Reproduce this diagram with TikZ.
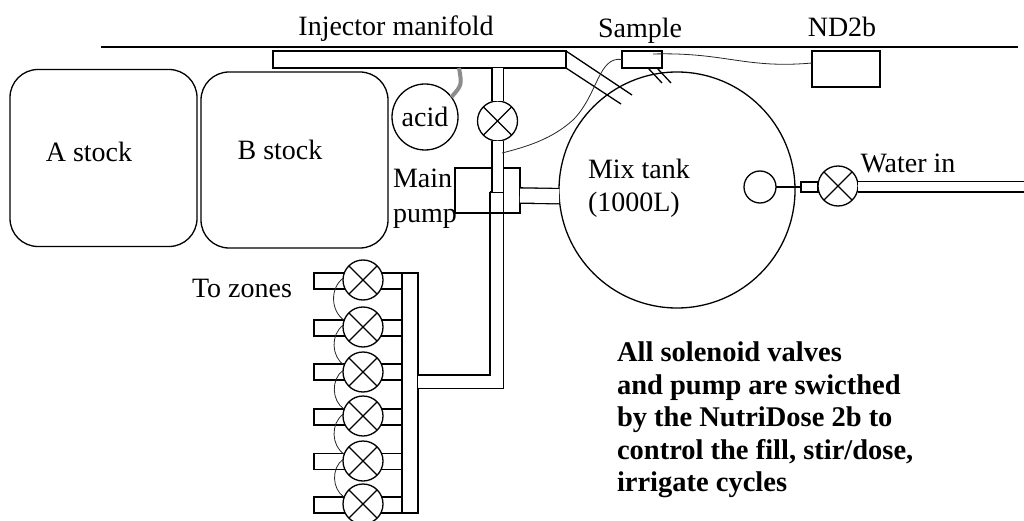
\documentclass[tikz,border=0pt]{standalone}
\usepackage{fontspec}
\setmainfont{Liberation Serif}
\usetikzlibrary{positioning}

\begin{document}
\begin{tikzpicture}[
    x=1pt, y=1pt,
    every node/.style={inner sep=0pt, outer sep=0pt},
    line width=1.3pt,
    box/.style={draw, minimum width=#1},
    stock/.style={draw, rounded corners=28pt, minimum width=187pt, minimum height=177pt},
    ball/.style={draw, circle, minimum size=#1},
    valve/.style={draw, circle, minimum size=40pt, fill=white, path picture={
        \draw (path picture bounding box.north west) -- (path picture bounding box.south east);
        \draw (path picture bounding box.north east) -- (path picture bounding box.south west);}},
    pipe/.style={double, double distance=#1},
    wire/.style={line width=0.8pt, black!85},
    lbl/.style={font=\fontsize{28}{38}\selectfont},
    note/.style={font=\fontsize{28.5}{32.5}\selectfont\bfseries, align=left}
]
    \useasboundingbox (0,0) rectangle (1024,520);

    \coordinate (lineL) at (101,473);
    \coordinate (lineR) at (1018,473);
    \draw (lineL) -- (lineR);

    \node[box=293pt, minimum height=17pt] (manifold) at (419.5,460.5) {};
    \node[box=40pt, minimum height=17pt] (sample) at (642,460.5) {};
    \node[box=68pt, minimum height=36pt] (nd2b) at (846,451) {};

    \node[stock] (astock) at (103.5,362) {};
    \node[stock, right=4pt of astock, yshift=-2pt, minimum height=176pt] (bstock) {};
    \node[ball=66pt] (acid) at (425,403) {};
    \node[ball=236pt] (tank) at (677,330) {};
    \node[ball=32pt] (float) at (760,333) {};

    \foreach \i/\y in {1/239, 2/192, 3/148, 4/103, 5/58.5, 6/15}
        \node[box=88pt, minimum height=16pt] (stub\i) at (358,\y) {};
    \foreach \i/\y in {1/240, 2/193, 3/148, 4/104, 5/59, 6/16}
        \node[valve] (zone\i) at (363,\y) {};
    \node[box=16pt, minimum height=240pt, fill=white] (bar) at (410,127) {};

    \coordinate (tee) at (496.5,328);
    \draw[pipe=12pt] (tee) |- ([yshift=11.5pt]bar.east);
    \draw ([xshift=-7pt]tee) -- ([xshift=7pt]tee);

    \node[box=65pt, minimum height=45pt] (pump) at (487.5,329.5) {};
    \node[valve] (mainvalve) at (497.5,399) {};
    \draw[pipe=10pt] (mainvalve.north) -- (mainvalve.north |- manifold.south);
    \draw[pipe=10pt] (mainvalve.south) -- (mainvalve.south |- tee);
    \draw[pipe=14pt] ([yshift=-5pt]pump.east) -- (tank.183);

    \node[box=17pt, minimum height=10pt] (coupler) at (809.5,333) {};
    \node[valve] (watervalve) at (838,334) {};
    \coordinate (waterend) at (1024,333);
    \draw[pipe=9pt] (waterend -| watervalve.east) -- (waterend);
    \draw (float.east) -- (coupler.west);

    \coordinate (drainA) at (632,425);
    \coordinate (drainB) at (621,416);
    \draw (manifold.north east) -- (drainA);
    \draw (manifold.south east) -- (drainB);
    \coordinate (probeA) at (648,452);
    \coordinate (probeB) at (662,437);
    \coordinate (probeC) at (657,452);
    \coordinate (probeD) at (671,437);
    \draw (probeA) -- (probeB);
    \draw (probeC) -- (probeD);

    \coordinate (wireend) at (502,367);
    \coordinate (samplein) at (653,466);
    \draw[wire] (sample.west) .. controls (598,464) and (598,425) .. (573,400)
        .. controls (553,382) and (530,374) .. (wireend);
    \draw[wire] (samplein) .. controls (725,468) and (745,451) .. ([yshift=6pt]nd2b.west);
    \foreach \i/\j in {1/2, 2/3, 3/4, 4/5, 5/6}
        \draw[wire] (zone\i.175) to[bend right=55] (zone\j.160);

    \coordinate (acidin) at (459,452);
    \draw[line width=4pt, black!45] (acidin) .. controls (462,435) .. (acid.37);

    \node[lbl] (manifoldtxt) at (396,491) {Injector manifold};
    \node[lbl] (sampletxt) at (640,489) {Sample};
    \node[lbl] (nd2btxt) at (842,493) {ND2b};
    \node[lbl] (atxt) at (89,368) {A stock};
    \node[lbl] (btxt) at (280,370) {B stock};
    \node[lbl] (acidtxt) at (425,403) {acid};
    \node[lbl, align=left, anchor=west] (pumptxt) at (393,321) {Main\\[-3pt]pump};
    \node[lbl, align=left, anchor=west] (tanktxt) at (588,332) {Mix tank\\[-5pt](1000L)};
    \node[lbl] (zonestxt) at (242,232) {To zones};
    \node[lbl] (watertxt) at (908,357) {Water in};
    \node[note, anchor=west] (notetxt) at (617,100) {All solenoid valves\\and pump are swicthed\\by the NutriDose 2b to\\control the fill, stir/dose,\\irrigate cycles};
\end{tikzpicture}
\end{document}
